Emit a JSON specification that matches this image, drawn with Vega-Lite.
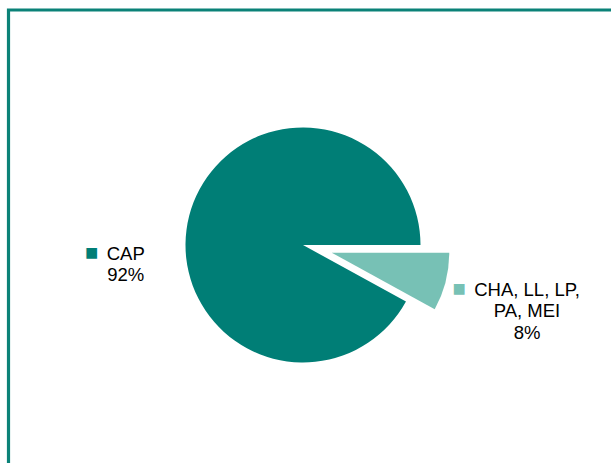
{
  "$schema": "https://vega.github.io/schema/vega-lite/v6.json",
  "width": 606.5,
  "height": 457,
  "autosize": {"type": "none"},
  "padding": {"left": 8.5, "top": 10, "right": -4, "bottom": -4},
  "background": "white",
  "config": {
    "view": {"stroke": null},
    "text": {"font": "Liberation Sans"}
  },
  "data": {
    "values": [
      {"cat": "CAP", "value": 92, "label": "CAP\n92%"},
      {"cat": "CHA, LL, LP, PA, MEI", "value": 8, "label": "CHA, LL, LP,\nPA, MEI\n8%"}
    ]
  },
  "layer": [
    {
      "data": {"values": [{"frame": "border"}]},
      "mark": {"type": "rect", "fill": "white", "stroke": "#0B8278", "strokeWidth": 3.2},
      "encoding": {}
    },
    {
      "encoding": {
        "theta": {"field": "value", "type": "quantitative", "stack": true,
          "scale": {"domain": [0, 100], "range": [2.0734512, 8.3566365]}},
        "order": {"field": "cat", "sort": "ascending"},
        "color": {"field": "cat", "type": "nominal",
          "scale": {"domain": ["CAP", "CHA, LL, LP, PA, MEI"], "range": ["#007E76", "#77C1B5"]},
          "legend": null}
      },
      "layer": [
        {
          "mark": {"type": "arc", "outerRadius": 117.5, "xOffset": -8.75, "yOffset": 6.5},
          "encoding": {"opacity": {"condition": {"test": "datum.cat === 'CAP'", "value": 1}, "value": 0}}
        },
        {
          "mark": {"type": "arc", "outerRadius": 117.5, "xOffset": 20, "yOffset": 14.2},
          "encoding": {"opacity": {"condition": {"test": "datum.cat === 'CAP'", "value": 0}, "value": 1}}
        },
        {
          "mark": {"type": "text", "radius": 183, "align": "center", "baseline": "middle", "lineBreak": "\n", "lineHeight": 21.5, "fontSize": 18.5, "xOffset": -8.75, "yOffset": 61},
          "encoding": {
            "text": {"condition": {"test": "datum.cat === 'CAP'", "field": "label", "type": "nominal"}, "value": ""},
            "color": {"value": "#000000"}
          }
        },
        {
          "mark": {"type": "text", "radius": 232, "align": "center", "baseline": "middle", "lineBreak": "\n", "lineHeight": 21.5, "fontSize": 18.5, "xOffset": -9.45, "yOffset": -6.2},
          "encoding": {
            "text": {"condition": {"test": "datum.cat !== 'CAP'", "field": "label", "type": "nominal"}, "value": ""},
            "color": {"value": "#000000"}
          }
        },
        {
          "mark": {"type": "text", "radius": 183, "align": "center", "baseline": "middle", "fontSize": 22, "xOffset": -42.75, "yOffset": 60.5},
          "encoding": {
            "text": {"condition": {"test": "datum.cat === 'CAP'", "value": "■"}, "value": ""}
          }
        },
        {
          "mark": {"type": "text", "radius": 232, "align": "center", "baseline": "middle", "fontSize": 22, "xOffset": -77.25, "yOffset": -7.5},
          "encoding": {
            "text": {"condition": {"test": "datum.cat !== 'CAP'", "value": "■"}, "value": ""}
          }
        }
      ]
    }
  ]
}
